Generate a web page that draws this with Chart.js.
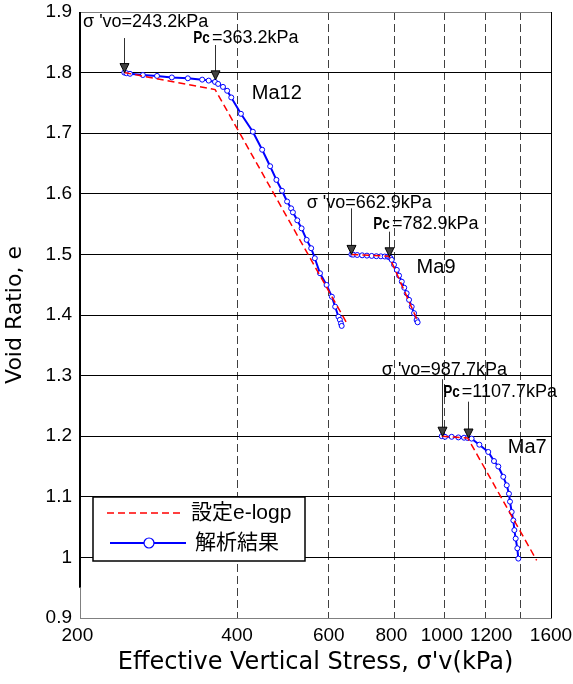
<!DOCTYPE html>
<html>
<head>
<meta charset="utf-8">
<script src="https://cdn.jsdelivr.net/npm/chart.js@4.4.1/dist/chart.umd.min.js"></script>
<style>
  html, body { margin: 0; padding: 0; background: #ffffff; }
  #chart { display: block; }
</style>
</head>
<body>
<canvas id="chart" width="573" height="684"></canvas>
<script>
// axis ticks (spaces nudge the crowded labels like the original)
const xTicks = [200, 400, 600, 800, 1000, 1200, 1400, 1600];
const xTickLabels = ["200 ", "400", "600", "800 ", "1000 ", "  1200", "", "1600"];
const yTicks = [0.9, 1.0, 1.1, 1.2, 1.3, 1.4, 1.5, 1.6, 1.7, 1.8, 1.9];
const yTickLabels = ["0.9", "1", "1.1", "1.2", "1.3", "1.4", "1.5", "1.6", "1.7", "1.8", "1.9"];

const seriesLabels = ["設定e-logp", "解析結果"];

// 設定e-logp (bilinear)
const ma12SetStress = [243.2, 363.2, 653];
const ma12SetVoid = [1.800, 1.772, 1.383];
const ma9SetStress = [662.9, 782.9, 890];
const ma9SetVoid = [1.500, 1.497, 1.388];
const ma7SetStress = [987.7, 1107.7, 1502];
const ma7SetVoid = [1.200, 1.197, 0.995];

// 解析結果
const ma12CalcStress = [243.2, 245.5, 249.4, 264, 281, 300, 322, 343, 353, 363, 368, 376, 383, 390, 407,
  429, 447, 463, 476, 488, 499, 508, 512, 522, 532, 544, 555, 564, 577, 594, 608, 617, 626, 630, 633, 635];
const ma12CalcVoid = [1.800, 1.799, 1.798, 1.796, 1.7945, 1.792, 1.7906, 1.7884, 1.7868, 1.7846, 1.7813, 1.7764, 1.770, 1.759, 1.732,
  1.7025, 1.6727, 1.6455, 1.623, 1.605, 1.5873, 1.576, 1.5694, 1.5562, 1.543, 1.524, 1.5102, 1.4937, 1.4689, 1.4496, 1.4302, 1.4137, 1.3972, 1.392, 1.386, 1.382];

const ma9CalcStress = [662.9, 668, 680, 695, 710, 725, 740, 755, 768, 778, 783, 788, 792, 800, 810, 818,
  828, 837, 846, 855, 865, 874, 884, 888];
const ma9CalcVoid = [1.500, 1.4995, 1.499, 1.4985, 1.498, 1.4975, 1.497, 1.4968, 1.4965, 1.4962, 1.496, 1.494, 1.491, 1.483, 1.4744, 1.465,
  1.455, 1.445, 1.4359, 1.425, 1.4137, 1.403, 1.3917, 1.388];

const ma7CalcStress = [987.7, 1002, 1032, 1063, 1090, 1107.7, 1127, 1166, 1213, 1244, 1268, 1296, 1316, 1329,
  1335, 1345, 1355, 1361, 1369, 1379, 1385];
const ma7CalcVoid = [1.200, 1.199, 1.199, 1.198, 1.1975, 1.197, 1.196, 1.186, 1.174, 1.159, 1.150, 1.133, 1.119, 1.105,
  1.092, 1.075, 1.061, 1.045, 1.031, 1.015, 0.998];

// annotations: arrows point at σ'vo and Pc
const arrowStress = [243.2, 363.2, 662.9, 782.9, 987.7, 1107.7];
const arrowTipVoid = [1.800, 1.788, 1.500, 1.496, 1.200, 1.197];
const arrowTopVoid = [1.857, 1.8455, 1.576, 1.5375, 1.294, 1.257];
const noteLabels = ["σ'vo=243.2kPa", "Pc=363.2kPa", "σ'vo=662.9kPa", "Pc=782.9kPa", "σ'vo=987.7kPa", "Pc=1107.7kPa"];
const noteStress = [202.7, 329.8, 544, 730, 758, 994];
const noteVoid = [1.8835, 1.857, 1.5848, 1.550, 1.3092, 1.2729];

const layerNames = ["Ma12", "Ma9", "Ma7"];
const layerNameStress = [426.9, 884, 1322];
const layerNameVoid = [1.7658, 1.4784, 1.1813];

const FONT = "'Liberation Sans', 'Noto Sans CJK JP', sans-serif";
const WIDE_FONT = "'DejaVu Sans', " + FONT;
const RED = "#ff0000";
const BLUE = "#0000ff";

function toPoints(xs, ys) {
  return xs.map((x, i) => ({ x, y: ys[i] }));
}

function setDataset(xs, ys) {
  return {
    label: seriesLabels[0],
    data: toPoints(xs, ys),
    borderColor: RED,
    borderWidth: 1.5,
    borderDash: [7, 4],
    pointRadius: 0,
    fill: false,
    tension: 0
  };
}

function calcDataset(xs, ys) {
  return {
    label: seriesLabels[1],
    data: toPoints(xs, ys),
    borderColor: BLUE,
    borderWidth: 2,
    pointRadius: 2.5,
    pointBorderWidth: 1,
    pointBorderColor: BLUE,
    pointBackgroundColor: "#ffffff",
    fill: false,
    tension: 0
  };
}

const framePlugin = {
  id: "frame",
  beforeDatasetsDraw(chart) {
    const { ctx, chartArea: ca, scales } = chart;
    ctx.save();
    // top edge
    ctx.strokeStyle = "#808080";
    ctx.lineWidth = 1;
    ctx.beginPath();
    ctx.moveTo(ca.left, ca.top + 0.5);
    ctx.lineTo(ca.right, ca.top + 0.5);
    ctx.stroke();
    // right edge
    ctx.strokeStyle = "#000000";
    ctx.beginPath();
    ctx.moveTo(ca.right + 0.5, ca.top);
    ctx.lineTo(ca.right + 0.5, ca.bottom);
    ctx.stroke();
    // left edge: thick black, thin grey near the bottom
    const yBreak = scales.y.getPixelForValue(0.95);
    ctx.lineWidth = 2;
    ctx.beginPath();
    ctx.moveTo(ca.left, ca.top);
    ctx.lineTo(ca.left, yBreak);
    ctx.stroke();
    ctx.strokeStyle = "#808080";
    ctx.lineWidth = 1;
    ctx.beginPath();
    ctx.moveTo(ca.left + 0.5, yBreak);
    ctx.lineTo(ca.left + 0.5, ca.bottom);
    ctx.stroke();
    ctx.restore();
  }
};

function drawArrow(ctx, x, yTop, yTip) {
  const headH = 9;
  const headW = 4.5;
  ctx.strokeStyle = "#303030";
  ctx.lineWidth = 1;
  ctx.beginPath();
  ctx.moveTo(x, yTop);
  ctx.lineTo(x, yTip - headH);
  ctx.stroke();
  ctx.fillStyle = "#404040";
  ctx.strokeStyle = "#000000";
  ctx.beginPath();
  ctx.moveTo(x - headW, yTip - headH);
  ctx.lineTo(x + headW, yTip - headH);
  ctx.lineTo(x, yTip);
  ctx.closePath();
  ctx.fill();
  ctx.stroke();
}

function drawNote(ctx, text, x, y) {
  ctx.fillStyle = "#000000";
  ctx.textBaseline = "middle";
  ctx.textAlign = "left";
  if (text.startsWith("σ")) {
    ctx.font = "18px " + FONT;
    ctx.fillText("σ", x, y);
    const w = ctx.measureText("σ").width + 5;
    ctx.fillText(text.slice(1), x + w, y);
  } else if (text.startsWith("Pc")) {
    ctx.save();
    ctx.font = "bold 17px " + FONT;
    ctx.translate(x, y);
    ctx.scale(0.8, 1);
    ctx.fillText("Pc", 0, 0);
    const w = ctx.measureText("Pc").width * 0.8 + 2;
    ctx.restore();
    ctx.font = "18px " + FONT;
    ctx.fillText(text.slice(2), x + w, y);
  } else {
    ctx.font = "18px " + FONT;
    ctx.fillText(text, x, y);
  }
}

const notesPlugin = {
  id: "notes",
  afterDatasetsDraw(chart) {
    const { ctx, scales } = chart;
    const xs = scales.x;
    const ys = scales.y;
    ctx.save();
    arrowStress.forEach((s, i) => {
      const px = Math.round(xs.getPixelForValue(s)) + 0.5;
      drawArrow(ctx, px, ys.getPixelForValue(arrowTopVoid[i]), ys.getPixelForValue(arrowTipVoid[i]));
    });
    noteLabels.forEach((t, i) => {
      drawNote(ctx, t, xs.getPixelForValue(noteStress[i]), ys.getPixelForValue(noteVoid[i]));
    });
    ctx.font = "20px " + FONT;
    ctx.fillStyle = "#000000";
    ctx.textBaseline = "middle";
    layerNames.forEach((t, i) => {
      ctx.fillText(t, xs.getPixelForValue(layerNameStress[i]), ys.getPixelForValue(layerNameVoid[i]));
    });
    ctx.restore();
  }
};

const legendPlugin = {
  id: "boxLegend",
  afterDatasetsDraw(chart) {
    const { ctx, chartArea: ca } = chart;
    const bx = ca.left + 13;
    const by = ca.bottom - 121;
    const bw = 212;
    const bh = 64;
    ctx.save();
    ctx.fillStyle = "#ffffff";
    ctx.fillRect(bx, by, bw, bh);
    ctx.strokeStyle = "#000000";
    ctx.lineWidth = 1.5;
    ctx.strokeRect(bx, by, bw, bh);

    const row1 = by + 16;
    const row2 = by + 46;
    ctx.strokeStyle = RED;
    ctx.lineWidth = 1.5;
    ctx.setLineDash([7, 4]);
    ctx.beginPath();
    ctx.moveTo(bx + 14, row1);
    ctx.lineTo(bx + 89, row1);
    ctx.stroke();
    ctx.setLineDash([]);

    ctx.strokeStyle = BLUE;
    ctx.lineWidth = 2;
    ctx.beginPath();
    ctx.moveTo(bx + 17, row2);
    ctx.lineTo(bx + 93, row2);
    ctx.stroke();
    ctx.fillStyle = "#ffffff";
    ctx.lineWidth = 1.2;
    ctx.beginPath();
    ctx.arc(bx + 56, row2, 5, 0, Math.PI * 2);
    ctx.fill();
    ctx.stroke();

    ctx.fillStyle = "#000000";
    ctx.font = "21px " + FONT;
    ctx.textBaseline = "middle";
    ctx.fillText(seriesLabels[0], bx + 98, row1);
    ctx.fillText(seriesLabels[1], bx + 102, row2);
    ctx.restore();
  }
};

Chart.defaults.font.family = FONT;
Chart.defaults.color = "#000000";

new Chart(document.getElementById("chart"), {
  type: "line",
  data: {
    datasets: [
      setDataset(ma12SetStress, ma12SetVoid),
      setDataset(ma9SetStress, ma9SetVoid),
      setDataset(ma7SetStress, ma7SetVoid),
      calcDataset(ma12CalcStress, ma12CalcVoid),
      calcDataset(ma9CalcStress, ma9CalcVoid),
      calcDataset(ma7CalcStress, ma7CalcVoid)
    ]
  },
  options: {
    responsive: false,
    animation: false,
    devicePixelRatio: 1,
    layout: { padding: { left: 0, right: 22, top: 12, bottom: 0 } },
    plugins: {
      legend: { display: false },
      tooltip: { enabled: false }
    },
    scales: {
      x: {
        type: "logarithmic",
        min: 200,
        max: 1600,
        afterBuildTicks(scale) {
          scale.ticks = xTicks.map((v) => ({ value: v }));
        },
        afterFit(scale) {
          scale.height = 66;
          scale.paddingLeft = 0;
          scale.paddingRight = 0;
        },
        ticks: {
          autoSkip: false,
          maxRotation: 0,
          padding: 6,
          font: { size: 19 },
          callback: (v, i) => xTickLabels[i]
        },
        grid: {
          color: "#404040",
          lineWidth: 1,
          drawTicks: false
        },
        border: { display: true, color: "#808080", width: 1, dash: [8, 4] },
        title: {
          display: true,
          text: "Effective Vertical Stress, σ'v(kPa)",
          font: { size: 24, family: WIDE_FONT, lineHeight: 1.2 },
          padding: { top: 0, bottom: 7 }
        }
      },
      y: {
        type: "linear",
        min: 0.9,
        max: 1.9,
        afterBuildTicks(scale) {
          scale.ticks = yTicks.map((v) => ({ value: v }));
        },
        afterFit(scale) {
          scale.width = 80;
          scale.paddingTop = 0;
          scale.paddingBottom = 0;
        },
        ticks: {
          padding: 8,
          font: { size: 19 },
          callback: (v, i) => yTickLabels[i]
        },
        grid: {
          color: (c) => (c.tick && (c.tick.value === 0.9 || c.tick.value === 1.9)) ? "#808080" : "#000000",
          lineWidth: 1,
          drawTicks: false
        },
        border: { display: false },
        title: {
          display: true,
          text: "Void Ratio, e",
          font: { size: 22, family: WIDE_FONT, lineHeight: 1.2 },
          padding: { top: 2, bottom: 0 }
        }
      }
    }
  },
  plugins: [framePlugin, notesPlugin, legendPlugin]
});
</script>
</body>
</html>
